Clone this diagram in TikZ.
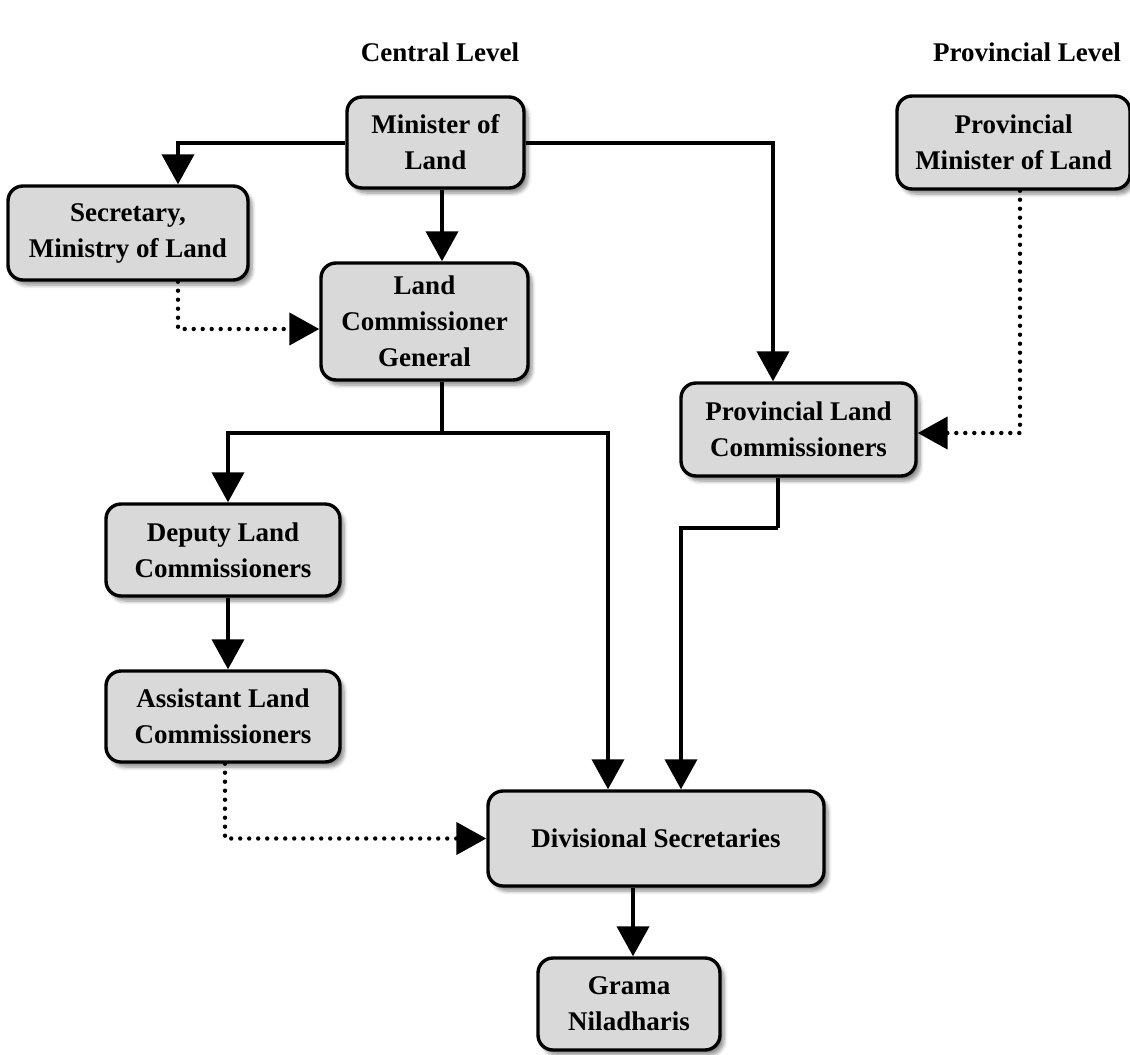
\documentclass[tikz,border=0pt]{standalone}
\usepackage{fontspec}
\setmainfont{Liberation Serif}
\usepackage{tikz}
\usetikzlibrary{arrows.meta,shadows.blur}

\begin{document}
\begin{tikzpicture}[x=0.5pt,y=-0.5pt,
	box/.style={draw,line width=1.7pt,rounded corners=7.5pt,fill=gray!30,align=center,
		font=\fontsize{13.5}{18}\selectfont\bfseries,
		blur shadow={shadow xshift=2pt,shadow yshift=-2.5pt,shadow blur steps=6,shadow opacity=45}},
	arr/.style={line width=2pt,-{Triangle[length=15pt,width=16pt]}},
	dot/.style={arr,line width=2.2pt,line cap=round,dash pattern=on 0pt off 4.5pt},
	head/.style={font=\fontsize{13.5}{18}\selectfont\bfseries}]
	\useasboundingbox (0,0) rectangle (1130,1055);
	% Headings
	\node[head] (hc) at (440,52) {Central Level};
	\node[head,anchor=east] (hp) at (1128,52) {Provincial Level};
	% Boxes
	\node[box,minimum width=88.5pt,minimum height=45.5pt] (min) at (435.5,142.5) {Minister of\\Land};
	\node[box,minimum width=120pt,minimum height=47pt] (sec) at (128,233) {Secretary,\\Ministry of Land};
	\node[box,minimum width=103.5pt,minimum height=58.5pt] (lcg) at (424.5,321.5) {Land\\Commissioner\\General};
	\node[box,minimum width=116.5pt,minimum height=46.5pt] (pml) at (1013.5,142.5) {Provincial\\Minister of Land};
	\node[box,minimum width=117.5pt,minimum height=46.5pt] (plc) at (798.5,429.5) {Provincial Land\\Commissioners};
	\node[box,minimum width=117pt,minimum height=46pt] (dlc) at (223,550) {Deputy Land\\Commissioners};
	\node[box,minimum width=117pt,minimum height=45.5pt] (alc) at (223,716.5) {Assistant Land\\Commissioners};
	\node[box,minimum width=168pt,minimum height=47.5pt] (ds) at (656,838.5) {Divisional Secretaries};
	\node[box,minimum width=91pt,minimum height=46pt] (gn) at (629,1004) {Grama\\Niladharis};
	% Lines of command
	\draw[arr] (min.west) -| ([xshift=25pt]sec.north);
	\draw[arr] ([xshift=3.25pt]min.south) -- ([xshift=3.25pt]min.south |- lcg.north);
	\draw[arr] (min.east) -| ([xshift=-12.75pt]plc.north);
	\draw[line width=2pt] ([xshift=8.75pt]lcg.south) -- ++(0pt,-25.5pt) coordinate (br);
	\draw[arr] (br) -| ([xshift=2.5pt]dlc.north);
	\draw[arr] (br) -| ([xshift=-24pt]ds.north);
	\draw[line width=2pt] ([xshift=-10.25pt]plc.south) -- ++(0pt,-25pt) coordinate (pb);
	\draw[arr] (pb) -| ([xshift=12.5pt]ds.north);
	\draw[arr] ([xshift=2.5pt]dlc.south) -- ([xshift=2.5pt]alc.north);
	\draw[arr] ([xshift=-11.5pt]ds.south) -- ([xshift=2pt]gn.north);
	% Dotted links
	\draw[dot] ([xshift=25pt]sec.south) |- ([yshift=-3.75pt]lcg.west);
	\draw[dot] ([xshift=3.25pt]pml.south) |- ([yshift=-1.75pt]plc.east);
	\draw[dot] ([xshift=1pt]alc.south) |- (ds.west);
\end{tikzpicture}
\end{document}
